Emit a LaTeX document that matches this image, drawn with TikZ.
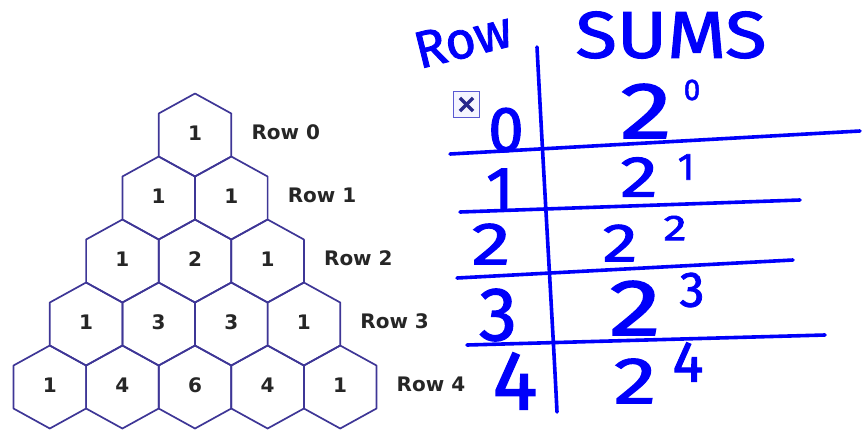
\documentclass[tikz,border=0pt]{standalone}
\usepackage{fontspec}
\newfontfamily\labfont{DejaVu Sans}
\newfontfamily\hwfont{Fira Sans}[FakeBold=1.6]
\newcommand\hwsz[1]{\fontsize{#1}{#1}\selectfont}
\newcommand\wide[1]{\scalebox{1.3}[1]{#1}}
\definecolor{hexblue}{RGB}{62,54,150}
\definecolor{hwblue}{RGB}{0,0,250}
\definecolor{iconblue}{RGB}{90,90,210}
\definecolor{icondark}{RGB}{40,40,140}
\tikzset{
  hexline/.style={draw=hexblue, line width=1.7pt, line join=round},
  num/.style={inner sep=0pt, font=\labfont\bfseries\hwsz{20}, text=black!85},
  rowlab/.style={inner sep=0pt, anchor=west, font=\labfont\bfseries\hwsz{20}, text=black!85},
  hw/.style={inner sep=0pt, text=hwblue},
  hwline/.style={draw=hwblue, line width=3.6pt, line cap=round},
}
\begin{document}
\begin{tikzpicture}[x=1pt,y=-1pt]
\useasboundingbox (0,0) rectangle (862,432);
% hexagonal Pascal triangle
\foreach \r/\k/\v in {0/0/1, 1/0/1, 1/1/1, 2/0/1, 2/1/2, 2/2/1,
  3/0/1, 3/1/3, 3/2/3, 3/3/1, 4/0/1, 4/1/4, 4/2/6, 4/3/4, 4/4/1}{
  \pgfmathsetmacro\cx{195+(\k-\r/2)*72.6}
  \pgfmathsetmacro\cy{135+63*\r}
  \draw[hexline] (\cx,\cy) +(0,-41.5) -- +(36.3,-21.5) -- +(36.3,21.5)
     -- +(0,41.5) -- +(-36.3,21.5) -- +(-36.3,-21.5) -- cycle;
  \node[num] (h\r\k) at (\cx,\cy-2) {\v};
}
\foreach \r in {0,...,4}{
  \pgfmathsetmacro\lx{195+\r*36.3+36.3+20}
  \pgfmathsetmacro\ly{135+63*\r-3}
  \node[rowlab] (row\r) at (\lx,\ly) {Row \r};
}
% broken image icon
\node[draw=iconblue, line width=1.2pt, fill=blue!4, minimum size=26pt, inner sep=0pt] (icon) at (466.5,104.5) {};
\draw[icondark, line width=3.4pt] ([shift={(7,7)}]icon.north west) -- ([shift={(-7,-7)}]icon.south east);
\draw[icondark, line width=3.4pt] ([shift={(-7,7)}]icon.north east) -- ([shift={(7,-7)}]icon.south west);
% handwritten table
\node[hw, font=\hwfont\hwsz{52}, rotate=14] (rowhead) at (463,40) {Row};
\node[hw, font=\hwfont\hwsz{66}] (sums) at (671,35) {\scalebox{1.15}[1]{SUMS}};
\coordinate (vtop) at (537,47);
\coordinate (vbot) at (557,412);
\draw[hwline] (vtop) .. controls (545,200) and (553,330) .. (vbot);
\coordinate (a1) at (450,154); \coordinate (b1) at (860,131);
\coordinate (a2) at (460,212); \coordinate (b2) at (800,200);
\coordinate (a3) at (457,278); \coordinate (b3) at (793,260);
\coordinate (a4) at (467,345); \coordinate (b4) at (825,335);
\foreach \i in {1,...,4}{ \draw[hwline] (a\i) -- (b\i); }
% row numbers
\node[hw, font=\hwfont\hwsz{64}] (n0) at (506,130) {0};
\node[hw, font=\hwfont\hwsz{64}] (n1) at (500,190) {1};
\node[hw, font=\hwfont\hwsz{60}] (n2) at (491,244) {\wide{2}};
\node[hw, font=\hwfont\hwsz{76}] (n3) at (498,315) {3};
\node[hw, font=\hwfont\hwsz{84}] (n4) at (515,381) {4};
% powers of two
\node[hw, font=\hwfont\hwsz{80}] (p0) at (646,111) {\wide{2}};
\node[hw, font=\hwfont\hwsz{30}] (e0) at (692,90) {0};
\node[hw, font=\hwfont\hwsz{58}] (p1) at (639,177) {\wide{2}};
\node[hw, font=\hwfont\hwsz{38}] (e1) at (686,167) {1};
\node[hw, font=\hwfont\hwsz{54}] (p2) at (620,243) {\wide{2}};
\node[hw, font=\hwfont\hwsz{36}] (e2) at (675,228) {\wide{2}};
\node[hw, font=\hwfont\hwsz{80}] (p3) at (635,308) {\wide{2}};
\node[hw, font=\hwfont\hwsz{50}] (e3) at (692,290) {3};
\node[hw, font=\hwfont\hwsz{66}] (p4) at (635,381) {\wide{2}};
\node[hw, font=\hwfont\hwsz{58}] (e4) at (688,362) {4};
\end{tikzpicture}
\end{document}
